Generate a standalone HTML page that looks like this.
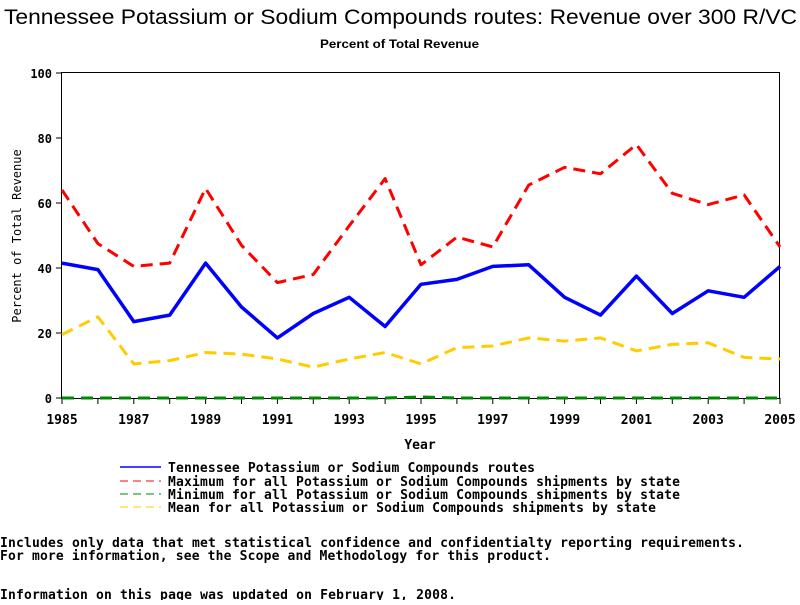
<!DOCTYPE html>
<html><head><meta charset="utf-8"><style>
body{margin:0;background:#fff;width:800px;height:600px;overflow:hidden}
svg text{font-family:"DejaVu Sans Mono","Liberation Mono",monospace}
</style></head><body>
<svg id="s" width="800" height="600" xmlns="http://www.w3.org/2000/svg">
<text x="4" y="24" textLength="793" lengthAdjust="spacingAndGlyphs" style="font-family:'Liberation Sans',sans-serif" font-size="21">Tennessee Potassium or Sodium Compounds routes: Revenue over 300 R/VC</text>
<text x="320" y="48" textLength="159" lengthAdjust="spacingAndGlyphs" font-size="12" font-weight="bold" style="font-family:'Liberation Sans',sans-serif">Percent of Total Revenue</text>
<rect x="61.5" y="72.5" width="718" height="326" fill="none" stroke="#000" stroke-width="1"/>
<g id="g"></g>
<text x="21" y="236" font-size="12" transform="rotate(-90 21 236)" text-anchor="middle">Percent of Total Revenue</text>
<text x="420" y="449" font-size="13" font-weight="bold" text-anchor="middle">Year</text>
<line x1="120" y1="467" x2="161" y2="467" stroke="#00f" stroke-width="1.5"/>
<line x1="120" y1="481" x2="161" y2="481" stroke="#f00" stroke-dasharray="8,5"/>
<line x1="120" y1="494" x2="161" y2="494" stroke="#080" stroke-dasharray="8,5"/>
<line x1="120" y1="507" x2="161" y2="507" stroke="#fc0" stroke-dasharray="8,5"/>
<g font-size="13" font-weight="bold">
<text x="168" y="472" textLength="367">Tennessee Potassium or Sodium Compounds routes</text>
<text x="168" y="486" textLength="512">Maximum for all Potassium or Sodium Compounds shipments by state</text>
<text x="168" y="499" textLength="512">Minimum for all Potassium or Sodium Compounds shipments by state</text>
<text x="168" y="512" textLength="488">Mean for all Potassium or Sodium Compounds shipments by state</text>
<text x="0" y="547" textLength="744">Includes only data that met statistical confidence and confidentialty reporting requirements.</text>
<text x="0" y="560" textLength="551">For more information, see the Scope and Methodology for this product.</text>
<text x="0" y="599" textLength="456">Information on this page was updated on February 1, 2008.</text>
</g>
</svg>
<script>
var g=document.getElementById('g'),h='';
function X(i){return 62+i*35.9}function Y(v){return 398-v*3.25}
for(var v=0;v<=100;v+=20){h+='<line x1="56" x2="61" y1="'+Y(v)+'" y2="'+Y(v)+'" stroke="#000"/><text x="52" y="'+(Y(v)+5)+'" font-size="12" font-weight="bold" text-anchor="end">'+v+'</text>';}
for(var i=0;i<=20;i++){h+='<line x1="'+X(i)+'" x2="'+X(i)+'" y1="398" y2="404" stroke="#000"/>';if(i%2==0)h+='<text x="'+X(i)+'" y="424" font-size="13" font-weight="bold" text-anchor="middle">'+(1985+i)+'</text>';}
function P(d,c,w,da){var p=d.map(function(v,i){return X(i).toFixed(1)+','+Y(v).toFixed(1)}).join(' ');return '<polyline points="'+p+'" fill="none" stroke="'+c+'" stroke-width="'+w+'"'+(da?' stroke-dasharray="'+da+'"':'')+' stroke-linejoin="round"/>';}
var red=[64,47.5,40.5,41.5,64.5,47,35.5,38,53,67.5,41,49.5,46.5,65.5,71,69,78,63,59.5,62.5,46.5];
var blue=[41.5,39.5,23.5,25.5,41.5,28,18.5,26,31,22,35,36.5,40.5,41,31,25.5,37.5,26,33,31,40.5];
var yel=[19.5,25,10.5,11.5,14,13.5,12,9.5,12,14,10.5,15.5,16,18.5,17.5,18.5,14.5,16.5,17,12.5,12];
var grn=[0,0,0,0,0,0,0,0,0,0,0.3,0,0,0,0,0,0,0,0,0,0];
h+=P(grn,'#080',3,'12,7')+P(yel,'#fc0',3,'12,7')+P(red,'#f00',3,'12,7')+P(blue,'#00f',3.5);
g.innerHTML=h;
</script>
</body></html>
